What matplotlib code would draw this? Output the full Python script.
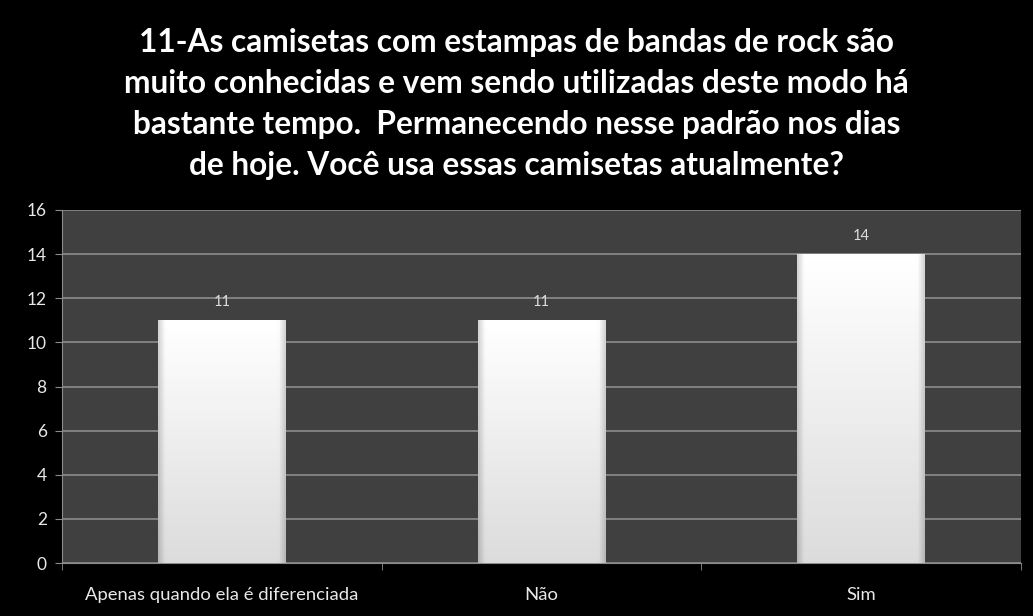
import numpy as np
import matplotlib.pyplot as plt

categorias = ['Apenas quando ela é diferenciada', 'Não', 'Sim']
respostas = [11, 11, 14]
titulo = ('11-As camisetas com estampas de bandas de rock são\n'
          'muito conhecidas e vem sendo utilizadas deste modo há\n'
          'bastante tempo.  Permanecendo nesse padrão nos dias\n'
          'de hoje. Você usa essas camisetas atualmente?')

fig = plt.figure(figsize=(10.33, 6.16), dpi=100, facecolor='black')
ax = fig.add_axes([62 / 1033, 1 - 563 / 616, (1021 - 62) / 1033, (563 - 210) / 616])
ax.set_facecolor('#404040')

x = np.arange(len(categorias))
barras = ax.bar(x, respostas, width=0.4, color='none', edgecolor='none', zorder=3)

# white-to-light-gray gradient inside each bar, darker at the sides
h = np.linspace(0, 1, 64)
edge = np.clip(np.minimum(h, 1 - h) / 0.05, 0, 1)
v = np.linspace(0.86, 1.0, 128)[:, None]
grad = v * (0.84 + 0.16 * edge[None, :])
for b in barras:
    x0, w, ht = b.get_x(), b.get_width(), b.get_height()
    ax.imshow(grad, cmap='gray', vmin=0, vmax=1, aspect='auto',
              extent=(x0, x0 + w, 0, ht), origin='lower', zorder=3)
    ax.text(x0 + w / 2, ht + 0.5, str(ht), ha='center', va='bottom',
            color='#dcdcdc', fontsize=10.5, family='Lato', zorder=4)

ax.set_xlim(-0.5, len(categorias) - 0.5)
ax.set_ylim(0, 16)
ax.set_yticks(range(0, 17, 2))
ax.yaxis.grid(True, color='#8c8c8c', linewidth=1.2, zorder=1)
ax.set_axisbelow(True)

ax.set_xticks(x)
ax.set_xticklabels(categorias, color='#e8e8e8', fontsize=13.3, family='Lato')
ax.tick_params(axis='x', length=0, pad=17)
ax.set_xticks(np.arange(-0.5, len(categorias), 1), minor=True)
ax.tick_params(axis='x', which='minor', length=5, color='#8c8c8c')
ax.tick_params(axis='y', colors='#8c8c8c', labelcolor='#e8e8e8', labelsize=12.5, length=5, pad=6)
for t in ax.get_yticklabels():
    t.set_family('Lato')

for s in ['top', 'right']:
    ax.spines[s].set_visible(False)
for s in ['left', 'bottom']:
    ax.spines[s].set_color('#8c8c8c')

fig.text(0.5, 1 - 104 / 616, titulo, ha='center', va='center', color='white',
         fontsize=22.8, fontweight='bold', family='Lato', linespacing=1.5)

fig.savefig('out.png', dpi=100, facecolor='black')
